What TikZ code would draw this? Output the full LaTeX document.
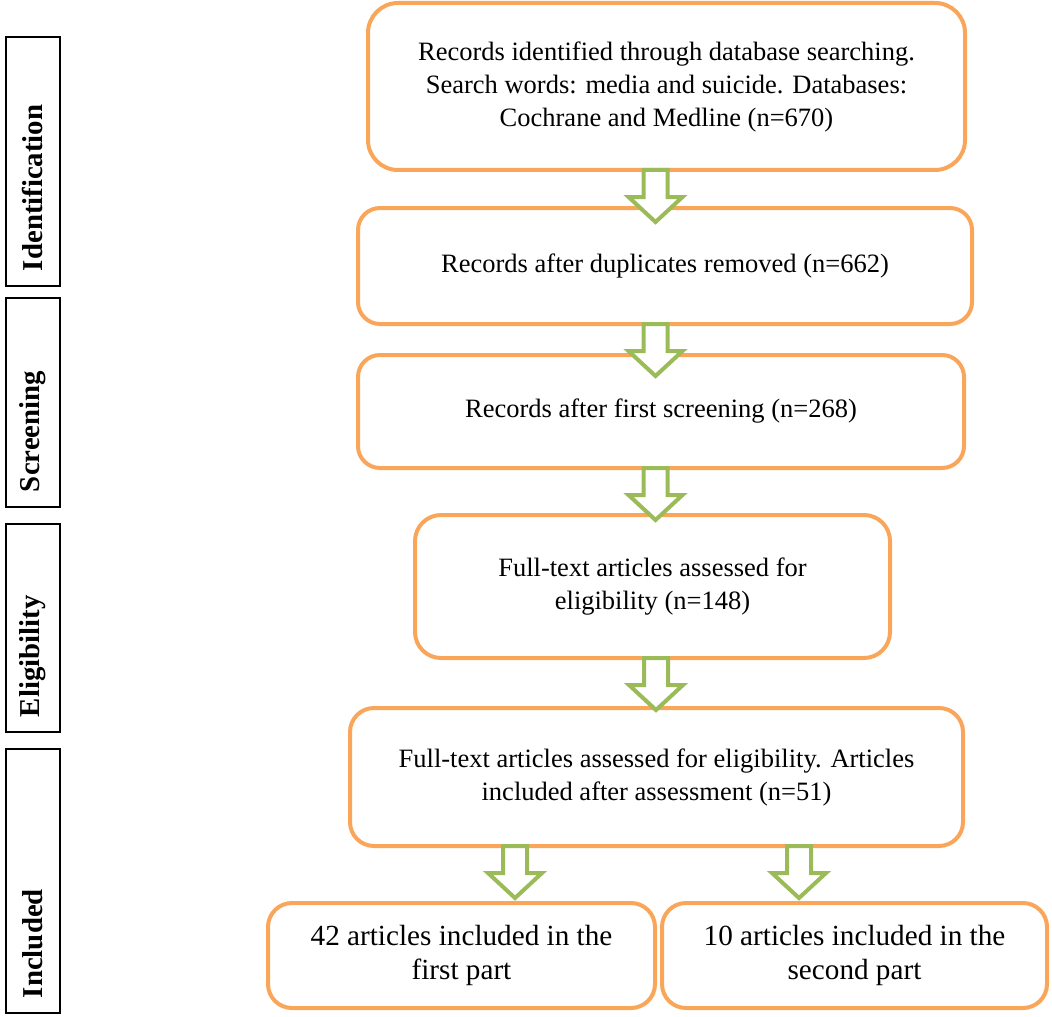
\documentclass[tikz,border=0pt]{standalone}
\usepackage{fontspec}
\setmainfont{Liberation Serif}
\usepackage{xcolor}
\usepackage{tikz}

\definecolor{boxorange}{HTML}{F9A65A}
\definecolor{arrowgreen}{HTML}{9BBB59}

\begin{document}
\begin{tikzpicture}[x=0.5pt, y=-0.5pt, font=\fontsize{13.25}{16.5}\selectfont,
  stage/.style={draw=boxorange, line width=2pt, rounded corners=#1, outer sep=0pt, align=center},
  phase/.style={draw, line width=1.2pt, rotate=90, outer sep=0pt, inner xsep=7.5pt, inner ysep=0pt,
    minimum height=27pt, text width=#1, align=left, font=\fontsize{14.4}{17}\selectfont\bfseries},
  hollowdown/.pic={\draw[draw=arrowgreen, fill=white, line width=2pt]
    (-12,0) -- (-12,27) -- (-27,27) -- (0,52) -- (27,27) -- (12,27) -- (12,0) -- cycle;}]
  \useasboundingbox (0,0) rectangle (1052,1016);
  % phases on the left
  \node[phase=109.5pt] (identification) at (33,161.5) {Identification};
  \node[phase=89.5pt] (screening) at (33,402.5) {Screening};
  \node[phase=89pt] (eligibility) at (33,628) {Eligibility};
  \node[phase=117pt] (inclusion) at (33,881) {Included};
  % flow boxes
  \node[stage=15pt, minimum width=298.5pt, minimum height=83.5pt] (records) at (666.5,86.5)
    {Records identified through database searching.\\ Search words: media and suicide. Databases:\\ Cochrane and Medline (n=670)};
  \node[stage=11pt, minimum width=307pt, minimum height=58pt] (dedup) at (665,266)
    {Records after duplicates removed (n=662)};
  \node[stage=11pt, minimum width=303pt, minimum height=56.5pt] (screened) at (661,411.5)
    {Records after first screening (n=268)};
  \node[stage=13pt, minimum width=237.5pt, minimum height=71.5pt] (fulltext) at (652.5,586.5)
    {Full-text articles assessed for\\ eligibility (n=148)};
  \node[stage=12pt, minimum width=306.5pt, minimum height=69pt] (assessed) at (656.5,777)
    {Full-text articles assessed for eligibility. Articles\\ included after assessment (n=51)};
  \node[stage=12pt, minimum width=193.5pt, minimum height=52.5pt, font=\fontsize{14.6}{16.8}\selectfont]
    (partone) at (461.5,955.5) {42 articles included in the\\ first part};
  \node[stage=12pt, minimum width=192.5pt, minimum height=52.5pt, font=\fontsize{14.6}{16.8}\selectfont]
    (parttwo) at (854.5,955.5) {10 articles included in the\\ second part};
  % block arrows
  \pic at (655.5,0 |- records.south) {hollowdown};
  \pic at (655.5,0 |- dedup.south) {hollowdown};
  \pic at (655.5,0 |- screened.south) {hollowdown};
  \pic at (656,0 |- fulltext.south) {hollowdown};
  \pic at (515,0 |- assessed.south) {hollowdown};
  \pic at (799,0 |- assessed.south) {hollowdown};
\end{tikzpicture}
\end{document}
